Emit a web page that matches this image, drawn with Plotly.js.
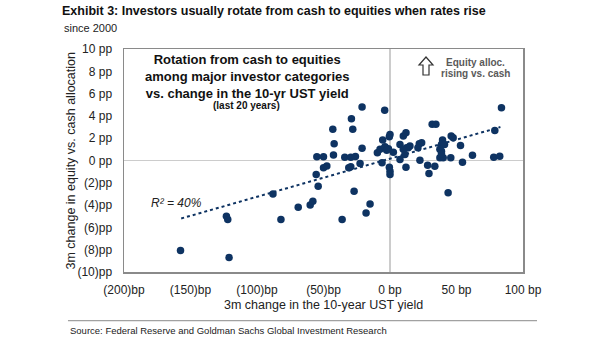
<!DOCTYPE html>
<html>
<head>
<meta charset="utf-8">
<script src="https://cdn.plot.ly/plotly-3.0.1.min.js"></script>
<style>html,body{margin:0;padding:0;background:#fff;}#chart{width:605px;height:341px;}</style>
</head>
<body>
<div id="chart"></div>
<script>
// 3m change in 10-yr UST yield (bp)
const yieldChange = [
  -157.5, -121, -123, -122, -88, -82, -69, -60, -58, -54, -55.5, -36, -27, -15, -18,
  -21, -4, -29, -43, -28, -42, -21, -55, -50, -42.5, -34, -29.5, -26, -22.5, -31, -29.5, -50, -47.5,
  -9.5, -5.5, -3.75, -0.5, -1.2, -6, -0.5, 0, 0, -7.5, -4, -2.5, 0,
  7.5, 10, 12, 7.5, 12, 12.5, 83.8, 78.8, 78, 82.5, 31.7, 34.5, 46, 47.5, 53, 62, 54.5, 45.7,
  39.5, 38.7, 41, 37.5, 38.7, 37.5, 40, 38.7, 33.7, 28.3, 29.3, 22.5, 22, 23.8, 21, 15, 13.7,
  10, 11.2, 43.7, 2.5
];
// 3m change in equity vs. cash allocation (pp)
const allocChange = [
  -8.07, -8.7, -5.0, -5.3, -3.0, -5.3, -4.2, -4.0, -3.66, -2.3, -1.26, -5.3, -2.76, -3.9, -4.7,
  4.8, 4.5, 3.75, 2.8, 2.8, 1.5, 1.1, 0.33, 0.33, 0.5, 0.3, 0.3, 0.35, -0.27, -0.66, -0.55, -0.66, -0.5,
  0.69, 1.83, 1.23, 2.13, 1.05, -0.2, -0.6, -0.96, -1.26, 1.0, 1.14, 0.93, 2.34,
  1.44, 2.2, 2.5, 0.09, -0.6, 1.14, 4.74, 2.7, 0.3, 0.39, 3.24, 3.24, 2.2, 2.04, 1.35, 0.48, -0.15, 0.24,
  1.83, 1.44, 1.44, 1.0, 0.84, 0.24, 0.24, 0.6, -0.51, -0.42, -1.17, 0.03, 1.5, 1.6, 1.14, 1.29, 1.14,
  1.0, 0.54, -2.9, 0.75
];
// Linear trend line endpoints (R² = 40%)
const trendX = [-157, 83];
const trendY = [-5.2, 3.0];

const xTickVals = [-200, -150, -100, -50, 0, 50, 100];
const xTickText = ['(200)bp', '(150)bp', '(100)bp', '(50)bp', '0 bp', '50 bp', '100 bp'];
const yTickVals = [10, 8, 6, 4, 2, 0, -2, -4, -6, -8, -10];
const yTickText = ['10 pp', '8 pp', '6 pp', '4 pp', '2 pp', '0 pp', '(2)pp', '(4)pp', '(6)pp', '(8)pp', '(10)pp'];

const navy = '#0e3362';
const font = 'Arial, "Liberation Sans", sans-serif';

const traces = [
  {
    x: trendX, y: trendY, type: 'scatter', mode: 'lines',
    line: {color: navy, width: 2, dash: 'dot'}, hoverinfo: 'skip', showlegend: false
  },
  {
    x: yieldChange, y: allocChange, type: 'scatter', mode: 'markers',
    marker: {color: navy, size: 7.5, line: {width: 0}}, showlegend: false
  }
];

const layout = {
  width: 605, height: 341,
  margin: {l: 124, r: 82, t: 49, b: 69},
  paper_bgcolor: '#ffffff', plot_bgcolor: '#ffffff',
  font: {family: font, size: 12, color: '#222'},
  title: {
    text: '<b>Exhibit 3: Investors usually rotate from cash to equities when rates rise</b>',
    font: {family: font, size: 12.5, color: '#111'},
    x: 62 / 605, xref: 'container', xanchor: 'left',
    y: 1 - 10.7 / 341, yref: 'container', yanchor: 'middle'
  },
  xaxis: {
    range: [-200, 100], tickvals: xTickVals, ticktext: xTickText,
    showgrid: false, ticks: '', ticklabelstandoff: 6,
    zeroline: true, zerolinecolor: '#cccccc', zerolinewidth: 1.5,
    showline: true, mirror: true, linecolor: '#8a8a8a', linewidth: 1.5,
    tickfont: {family: font, size: 12, color: '#222'}
  },
  yaxis: {
    range: [-10, 10], tickvals: yTickVals, ticktext: yTickText,
    showgrid: false, ticks: '', ticklabelstandoff: 8,
    zeroline: true, zerolinecolor: '#cccccc', zerolinewidth: 1.5,
    showline: true, mirror: true, linecolor: '#8a8a8a', linewidth: 1.5,
    tickfont: {family: font, size: 12, color: '#222'}
  },
  shapes: [
    {type: 'line', xref: 'paper', yref: 'paper', x0: -0.1404, x1: 1.0351, y0: -0.2184, y1: -0.2184,
     line: {color: '#8a8a8a', width: 1}},
    {type: 'path', xref: 'paper', yref: 'paper',
     path: 'M 0.75689 0.96413 L 0.77444 0.92825 L 0.76441 0.92825 L 0.76441 0.88341 L 0.74937 0.88341 L 0.74937 0.92825 L 0.73935 0.92825 Z',
     line: {color: '#333', width: 1.2}, fillcolor: 'rgba(0,0,0,0)'}
  ],
  annotations: [
    {text: '3m change in the 10-year UST yield', xref: 'paper', yref: 'paper', x: 0.5, y: -0.148,
     xanchor: 'center', yanchor: 'middle', showarrow: false, font: {family: font, size: 12.5, color: '#222'}},
    {text: '3m change in equity vs. cash allocation', xref: 'paper', yref: 'paper', x: -0.1353, y: 0.5,
     xanchor: 'center', yanchor: 'middle', textangle: -90, showarrow: false, font: {family: font, size: 12.5, color: '#222'}},
    {text: 'since 2000', xref: 'paper', yref: 'paper', x: -0.1554, y: 1.0955, xanchor: 'left', yanchor: 'middle',
     showarrow: false, font: {family: font, size: 11, color: '#222'}},
    {text: '<b>Rotation from cash to equities<br>among major investor categories<br>vs. change in the 10-yr UST yield</b>',
     xref: 'paper', yref: 'paper', x: 0.3075, y: 0.8758, xanchor: 'center', yanchor: 'middle',
     showarrow: false, font: {family: font, size: 13, color: '#111'}},
    {text: '<b>(last 20 years)</b>', xref: 'paper', yref: 'paper', x: 0.3075, y: 0.7457, xanchor: 'center', yanchor: 'middle',
     showarrow: false, font: {family: font, size: 10, color: '#111'}},
    {text: '<b>Equity alloc.</b>', xref: 'paper', yref: 'paper', x: 0.8797, y: 0.9386, xanchor: 'center', yanchor: 'middle',
     showarrow: false, font: {family: font, size: 10, color: '#5a5a5a'}},
    {text: '<b>rising vs. cash</b>', xref: 'paper', yref: 'paper', x: 0.8797, y: 0.891, xanchor: 'center', yanchor: 'middle',
     showarrow: false, font: {family: font, size: 10, color: '#5a5a5a'}},
    {text: '<i>R² = 40%</i>', xref: 'paper', yref: 'paper', x: 0.1321, y: 0.3081, xanchor: 'center', yanchor: 'middle',
     showarrow: false, font: {family: font, size: 12, color: '#222'}},
    {text: 'Source: Federal Reserve and Goldman Sachs Global Investment Research', xref: 'paper', yref: 'paper',
     x: -0.1411, y: -0.2632, xanchor: 'left', yanchor: 'middle',
     showarrow: false, font: {family: font, size: 9.5, color: '#222'}}
  ]
};

Plotly.newPlot('chart', traces, layout, {displayModeBar: false, staticPlot: true});
</script>
</body>
</html>
